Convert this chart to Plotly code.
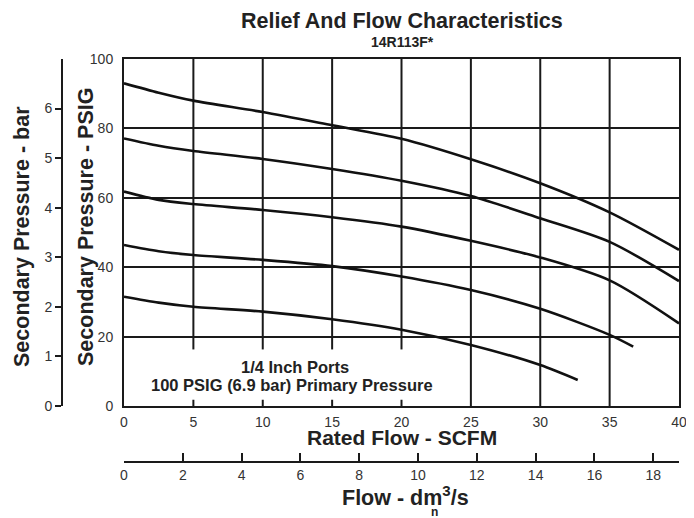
import plotly.graph_objects as go

# ---------------- data ----------------
c1_x = [0, 2.5, 5, 10, 15, 20, 25, 30, 35, 40]
c1_y = [93, 90.3, 88, 84.7, 80.9, 77, 71.1, 64.2, 55.8, 45]
c2_x = [0, 2.5, 5, 10, 15, 20, 25, 30, 35, 40]
c2_y = [77.1, 75, 73.5, 71.2, 68.3, 64.9, 60.5, 54.1, 47.3, 36]
c3_x = [0, 2.5, 5, 10, 15, 20, 25, 30, 35, 40]
c3_y = [61.8, 59.4, 58.2, 56.5, 54.4, 51.7, 47.6, 42.8, 36.2, 23.8]
c4_x = [0, 2.5, 5, 10, 15, 20, 25, 30, 35, 36.7]
c4_y = [46.4, 44.6, 43.5, 42.1, 40.3, 37.3, 33.4, 28, 20.5, 17.1]
c5_x = [0, 2.5, 5, 10, 15, 20, 25, 30, 32.7]
c5_y = [31.5, 29.8, 28.6, 27.2, 25, 22, 17.6, 11.8, 7.5]

scfm_ticks = [0, 5, 10, 15, 20, 25, 30, 35, 40]
psig_ticks = [0, 20, 40, 60, 80, 100]
bar_ticks = [0, 1, 2, 3, 4, 5, 6]
dm_ticks = [0, 2, 4, 6, 8, 10, 12, 14, 16, 18]
full_vlines = [25, 30, 35]
short_vlines = [5, 10, 15, 20]

SCFM_MAX = 40
PSIG_MAX = 100
BAR_MAX = 7
DM_MAX = SCFM_MAX * 0.4719

FONT = "Liberation Sans, Arial, sans-serif"
TXT = "#222222"

fig = go.Figure()
for xs, ys in [(c1_x, c1_y), (c2_x, c2_y), (c3_x, c3_y), (c4_x, c4_y), (c5_x, c5_y)]:
    fig.add_trace(go.Scatter(x=xs, y=ys, mode="lines",
                             line=dict(color="#111111", width=2.6, shape="spline", smoothing=0.8),
                             showlegend=False, hoverinfo="skip"))

# page body has an 8px margin, so the figure is offset by 8px in the window
OFF = 8
W, H = 694 - OFF, 518 - OFF
ml, mt = 62 - OFF, 59 - OFF
mr = W - (679 - OFF)
mb = H - (462 - OFF)
pw, ph = W - ml - mr, H - mt - mb
xdom0 = (124 - 62) / pw
ydom0 = (462 - 406) / ph

shapes = []
lw = dict(color="#1a1a1a", width=2)
for xv in full_vlines:
    shapes.append(dict(type="line", xref="x", yref="y", x0=xv, x1=xv, y0=0, y1=PSIG_MAX, line=lw, layer="below"))
for xv in short_vlines:
    shapes.append(dict(type="line", xref="x", yref="y", x0=xv, x1=xv, y0=20, y1=PSIG_MAX, line=lw, layer="below"))
    shapes.append(dict(type="line", xref="x", yref="y", x0=xv, x1=xv, y0=16.3, y1=20, line=lw, layer="below"))
    shapes.append(dict(type="line", xref="x", yref="y", x0=xv, x1=xv, y0=0, y1=1.8, line=lw, layer="below"))

def px_x(p):
    return (p - OFF - ml) / pw

def px_y(p):
    return (H - mb - (p - OFF)) / ph

def ann(text, x, y, size, angle=0):
    return dict(text=text, x=px_x(x), y=px_y(y), xref="paper", yref="paper", showarrow=False,
                textangle=angle, font=dict(family=FONT, size=size, color=TXT),
                xanchor="center", yanchor="middle")

annotations = [
    ann("<b>Relief And Flow Characteristics</b>", 402, 21, 21.5),
    ann("<b>14R113F*</b>", 402, 42, 14),
    ann("<b>Rated Flow - SCFM</b>", 402, 437, 21),
    ann("<b>Flow - dm<sup>3</sup>/s</b>", 405, 496, 21.5),
    ann("<b>n</b>", 434, 512, 12),
    ann("<b>Secondary Pressure - PSIG</b>", 86, 227, 21.5, -90),
    ann("<b>Secondary Pressure - bar</b>", 22, 237, 21.5, -90),
    ann("<b>1/4 Inch Ports</b>", 295, 367, 16.5),
    ann("<b>100 PSIG (6.9 bar) Primary Pressure</b>", 292, 385, 16.5),
]

tickfont = dict(family=FONT, size=14, color="#333333")

fig.update_layout(
    width=W, height=H,
    margin=dict(l=ml, r=mr, t=mt, b=mb, pad=0, autoexpand=False),
    paper_bgcolor="white", plot_bgcolor="white",
    shapes=shapes, annotations=annotations,
    xaxis=dict(domain=[xdom0, 1], range=[0, SCFM_MAX], tickvals=scfm_ticks, ticks="",
               showgrid=False, zeroline=False, showline=True, mirror=True, linecolor="#1a1a1a", linewidth=2,
               tickfont=tickfont, anchor="y", ticklabelstandoff=2, automargin=False),
    yaxis=dict(domain=[ydom0, 1], range=[0, PSIG_MAX], tickvals=psig_ticks, ticks="",
               showgrid=True, gridcolor="#1a1a1a", gridwidth=2, zeroline=False,
               showline=True, mirror=True, linecolor="#1a1a1a", linewidth=2,
               tickfont=tickfont, anchor="x", ticklabelstandoff=6, automargin=False),
    xaxis2=dict(domain=[xdom0, 1], range=[0, DM_MAX], tickvals=dm_ticks, ticks="inside", ticklen=8,
                tickwidth=2, tickcolor="#1a1a1a", showgrid=False, zeroline=False, showline=True,
                linecolor="#1a1a1a", linewidth=2, anchor="free", position=0, overlaying="x", side="bottom",
                tickfont=tickfont, automargin=False),
    yaxis2=dict(domain=[ydom0, 1], range=[0, BAR_MAX], tickvals=bar_ticks, ticks="outside", ticklen=6,
                tickwidth=2, tickcolor="#1a1a1a", showgrid=False, zeroline=False, showline=True,
                linecolor="#1a1a1a", linewidth=2, anchor="free", position=0, overlaying="y", side="left",
                tickfont=tickfont, automargin=False),
)

# invisible trace to activate secondary axes
fig.add_trace(go.Scatter(x=[0], y=[0], xaxis="x2", yaxis="y2", mode="markers",
                         marker=dict(opacity=0), showlegend=False, hoverinfo="skip"))

fig.write_html("out.html")
